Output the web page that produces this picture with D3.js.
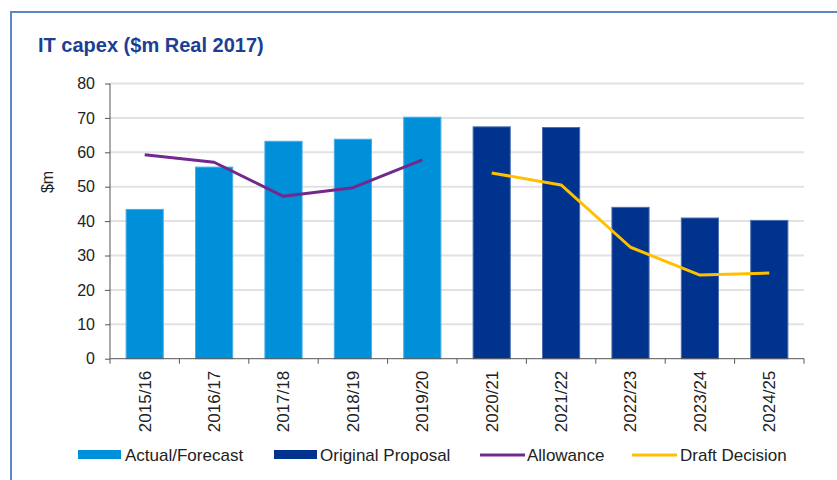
<!DOCTYPE html>
<html>
<head>
<meta charset="utf-8">
<script src="https://cdn.jsdelivr.net/npm/d3@7"></script>
<style>
html,body{margin:0;padding:0;background:#fff;}
text{font-family:"Liberation Sans",Arial,sans-serif;}
</style>
</head>
<body>
<svg id="chart" width="837" height="480"></svg>
<script>
const categories = ["2015/16","2016/17","2017/18","2018/19","2019/20","2020/21","2021/22","2022/23","2023/24","2024/25"];
const actualForecast = [43.4, 55.7, 63.2, 63.8, 70.2, null, null, null, null, null];
const originalProposal = [null, null, null, null, null, 67.4, 67.2, 44.0, 40.9, 40.2];
const allowance = [59.3, 57.1, 47.2, 49.7, 57.8, null, null, null, null, null];
const draftDecision = [null, null, null, null, null, 54.0, 50.5, 32.4, 24.3, 24.9];
const yTicks = [0, 10, 20, 30, 40, 50, 60, 70, 80];

const svg = d3.select("#chart");
const C = {light:"#0090da", lightStroke:"#45aee8", dark:"#00338d", darkStroke:"#4d6fb0", purple:"#72288c", yellow:"#ffc000", title:"#1c3f94"};

// outer frame
svg.append("rect").attr("x",11).attr("y",12).attr("width",900).attr("height",500)
  .attr("fill","none").attr("stroke","#5b87c5").attr("stroke-width",2);

svg.append("text").attr("x",38).attr("y",52).attr("font-size",20).attr("font-weight","bold")
  .attr("fill",C.title).text("IT capex ($m Real 2017)");

const x = d3.scaleBand().domain(categories).range([110, 804]).paddingInner(0.45).paddingOuter(0.225);
const y = d3.scaleLinear().domain([0, 80]).range([358.7, 83.5]);

// gridlines
svg.append("g").selectAll("line").data(yTicks.filter(d=>d>0)).join("line")
  .attr("x1",110).attr("x2",804).attr("y1",d=>y(d)).attr("y2",d=>y(d))
  .attr("stroke","#e2e2e2").attr("stroke-width",2);

// bars
function bars(data, fill, stroke){
  svg.append("g").selectAll("rect").data(data.map((v,i)=>({c:categories[i],v})).filter(d=>d.v!=null)).join("rect")
    .attr("x",d=>x(d.c)+0.5).attr("width",x.bandwidth()-1)
    .attr("y",d=>y(d.v)).attr("height",d=>y(0)-y(d.v))
    .attr("fill",fill).attr("stroke",stroke).attr("stroke-width",1);
}
bars(actualForecast, C.light, C.lightStroke);
bars(originalProposal, C.dark, C.darkStroke);

// lines
function line(data, color){
  const gen = d3.line().defined(d=>d.v!=null).x(d=>x(d.c)+x.bandwidth()/2).y(d=>y(d.v));
  svg.append("path").datum(data.map((v,i)=>({c:categories[i],v})))
    .attr("d",gen).attr("fill","none").attr("stroke",color).attr("stroke-width",3)
    .attr("stroke-linejoin","round");
}
line(allowance, C.purple);
line(draftDecision, C.yellow);

// y axis
const yAxis = d3.axisLeft(y).tickValues(yTicks).tickSize(5).tickPadding(10);
const gy = svg.append("g").attr("transform","translate(110,0)").call(yAxis);
gy.select(".domain").attr("stroke","#555").attr("d","M0,"+y(80)+"V"+y(0));
gy.selectAll(".tick line").attr("stroke","#555");
gy.selectAll(".tick text").attr("font-size",16).attr("fill","#222").attr("font-family","Liberation Sans, Arial, sans-serif");

// x axis
const xAxis = d3.axisBottom(x).tickSize(0).tickPadding(0);
const gx = svg.append("g").attr("transform","translate(0,"+y(0)+")").call(xAxis);
gx.select(".domain").attr("stroke","#555").attr("d","M110,0H804");
gx.selectAll(".tick text").attr("font-size",17).attr("fill","#222")
  .attr("font-family","Liberation Sans, Arial, sans-serif")
  .attr("transform","rotate(-90)").attr("text-anchor","end")
  .attr("x",-12).attr("y",0).attr("dy","0.35em");
const bounds = categories.map(c=>x(c)-x.step()*x.paddingInner()/2).concat([804]);
svg.append("g").selectAll("line").data(bounds).join("line")
  .attr("x1",d=>d).attr("x2",d=>d).attr("y1",y(0)).attr("y2",y(0)+5).attr("stroke","#555");

// y label
svg.append("text").attr("transform","translate(53,182) rotate(-90)").attr("text-anchor","middle")
  .attr("font-size",16).attr("fill","#222").text("$m");

// legend
const legend = [
  {name:"Actual/Forecast", type:"rect", color:C.light, x0:78, tx:125},
  {name:"Original Proposal", type:"rect", color:C.dark, x0:274, tx:320},
  {name:"Allowance", type:"line", color:C.purple, x0:480, tx:527},
  {name:"Draft Decision", type:"line", color:C.yellow, x0:632, tx:680}
];
const lg = svg.append("g");
legend.forEach(d=>{
  if(d.type==="rect") lg.append("rect").attr("x",d.x0).attr("y",450).attr("width",43).attr("height",9).attr("fill",d.color);
  else lg.append("line").attr("x1",d.x0).attr("x2",d.x0+45).attr("y1",455).attr("y2",455).attr("stroke",d.color).attr("stroke-width",3);
  lg.append("text").attr("x",d.tx).attr("y",461).attr("font-size",17).attr("fill","#222").text(d.name);
});
</script>
</body>
</html>
